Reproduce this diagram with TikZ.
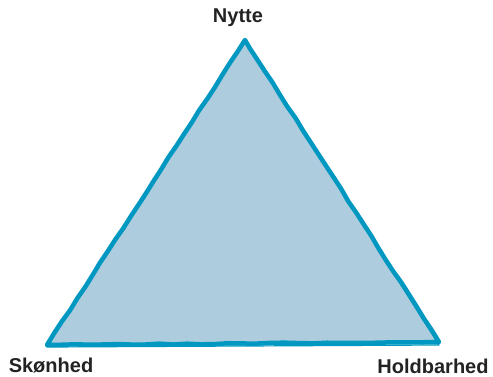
\documentclass[tikz,border=0pt]{standalone}
\usepackage{fontspec}
\setmainfont{Liberation Sans}
\usetikzlibrary{decorations.pathmorphing}
\definecolor{trifill}{RGB}{173,204,221}
\definecolor{triedge}{RGB}{0,152,192}
\definecolor{labelgray}{RGB}{35,35,35}

\begin{document}
\begin{tikzpicture}[x=1pt, y=-1pt,
  corner/.style={font=\fontsize{20}{20}\selectfont\bfseries, text=labelgray, inner sep=0pt}]
\useasboundingbox (0,0) rectangle (493,376);
\coordinate (top) at (245,40);
\coordinate (left) at (47,345);
\coordinate (right) at (439,342);
\fill[trifill] (top) -- (left) -- (right) -- cycle;
\pgfmathsetseed{7}
\draw[triedge, line width=4.5pt, line join=round,
  decorate, decoration={random steps, segment length=14pt, amplitude=0.5pt}]
  (top) -- (left) -- (right) -- cycle;
\draw[triedge, line width=1.2pt, line join=round]
  ([xshift=1pt]top) -- ([yshift=-2pt]left) -- ([yshift=-3pt]right) -- cycle;
\node[corner] (nytte) at (238,18) {Nytte};
\node[corner] (skonhed) at (51,366) {Skønhed};
\node[corner] (holdbarhed) at (433,366) {Holdbarhed};
\end{tikzpicture}
\end{document}
